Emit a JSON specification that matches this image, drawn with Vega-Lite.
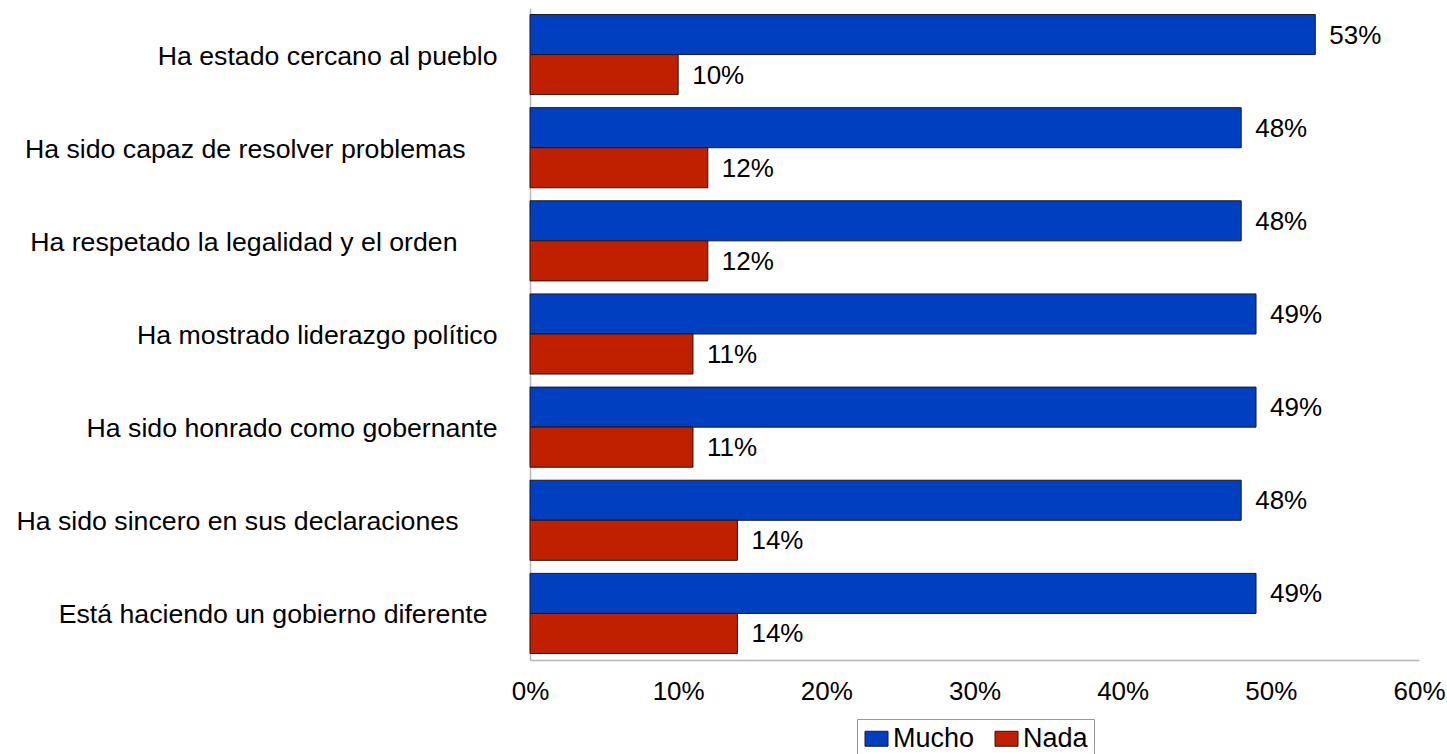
{
  "$schema": "https://vega.github.io/schema/vega-lite/v6.json",
  "width": 889,
  "height": 652,
  "autosize": {"type": "none"},
  "padding": {"left": 530, "top": 8, "right": 28, "bottom": 94},
  "background": "white",
  "config": {
    "view": {"stroke": null},
    "font": "Liberation Sans",
    "text": {"font": "Liberation Sans"}
  },
  "data": {
    "values": [
      {"cat": "Ha estado cercano al pueblo", "serie": "Mucho", "v": 0.53},
      {"cat": "Ha estado cercano al pueblo", "serie": "Nada", "v": 0.10},
      {"cat": "Ha sido capaz de resolver problemas", "serie": "Mucho", "v": 0.48},
      {"cat": "Ha sido capaz de resolver problemas", "serie": "Nada", "v": 0.12},
      {"cat": "Ha respetado la legalidad y el orden", "serie": "Mucho", "v": 0.48},
      {"cat": "Ha respetado la legalidad y el orden", "serie": "Nada", "v": 0.12},
      {"cat": "Ha mostrado liderazgo político", "serie": "Mucho", "v": 0.49},
      {"cat": "Ha mostrado liderazgo político", "serie": "Nada", "v": 0.11},
      {"cat": "Ha sido honrado como gobernante", "serie": "Mucho", "v": 0.49},
      {"cat": "Ha sido honrado como gobernante", "serie": "Nada", "v": 0.11},
      {"cat": "Ha sido sincero en sus declaraciones", "serie": "Mucho", "v": 0.48},
      {"cat": "Ha sido sincero en sus declaraciones", "serie": "Nada", "v": 0.14},
      {"cat": "Está haciendo un gobierno diferente", "serie": "Mucho", "v": 0.49},
      {"cat": "Está haciendo un gobierno diferente", "serie": "Nada", "v": 0.14}
    ]
  },
  "encoding": {
    "y": {
      "field": "cat",
      "type": "nominal",
      "sort": null,
      "scale": {"paddingInner": 0.14, "paddingOuter": 0.07},
      "axis": {
        "title": null,
        "ticks": false,
        "domainColor": "#b8b8b8",
        "domainWidth": 1.5,
        "labelFontSize": 26.7,
        "labelColor": "#000000",
        "labelFont": "Liberation Sans",
        "labelOffset": 2,
        "labelLimit": 600,
        "labelPadding": {
          "condition": [
            {"test": "datum.value == 'Ha sido capaz de resolver problemas'", "value": 65},
            {"test": "datum.value == 'Ha respetado la legalidad y el orden'", "value": 73},
            {"test": "datum.value == 'Ha sido sincero en sus declaraciones'", "value": 72},
            {"test": "datum.value == 'Está haciendo un gobierno diferente'", "value": 43}
          ],
          "value": 33
        }
      }
    },
    "yOffset": {"field": "serie", "type": "nominal", "sort": ["Mucho", "Nada"]},
    "x": {
      "field": "v",
      "type": "quantitative",
      "scale": {"domain": [0, 0.6], "nice": false},
      "axis": {
        "title": null,
        "values": [0, 0.1, 0.2, 0.3, 0.4, 0.5, 0.6],
        "format": ".0%",
        "grid": false,
        "ticks": false,
        "domainColor": "#b8b8b8",
        "domainWidth": 1.5,
        "labelFontSize": 26,
        "labelColor": "#000000",
        "labelFont": "Liberation Sans",
        "labelPadding": 18,
        "labelFlush": false
      }
    }
  },
  "layer": [
    {
      "mark": {"type": "bar", "stroke": "#1a1a1a", "strokeWidth": 1},
      "encoding": {
        "color": {
          "field": "serie",
          "type": "nominal",
          "scale": {"domain": ["Mucho", "Nada"], "range": ["#0040C0", "#C02000"]},
          "legend": {
            "title": null,
            "orient": "none",
            "legendX": 327,
            "legendY": 711,
            "direction": "horizontal",
            "strokeColor": "#999999",
            "fillColor": "white",
            "padding": 6,
            "symbolType": "M-1,-0.65L1,-0.65L1,0.65L-1,0.65Z",
            "symbolSize": 529,
            "symbolStrokeColor": "#1a1a1a",
            "symbolStrokeWidth": 1,
            "symbolOpacity": 1,
            "labelFontSize": 27,
            "labelFont": "Liberation Sans",
            "labelColor": "#000000",
            "labelOffset": 3,
            "columnPadding": 18
          }
        }
      }
    },
    {
      "mark": {"type": "text", "align": "left", "baseline": "middle", "dx": 14, "dy": 1, "fontSize": 26, "font": "Liberation Sans", "color": "#000000"},
      "encoding": {
        "text": {"field": "v", "type": "quantitative", "format": ".0%"}
      }
    }
  ]
}
